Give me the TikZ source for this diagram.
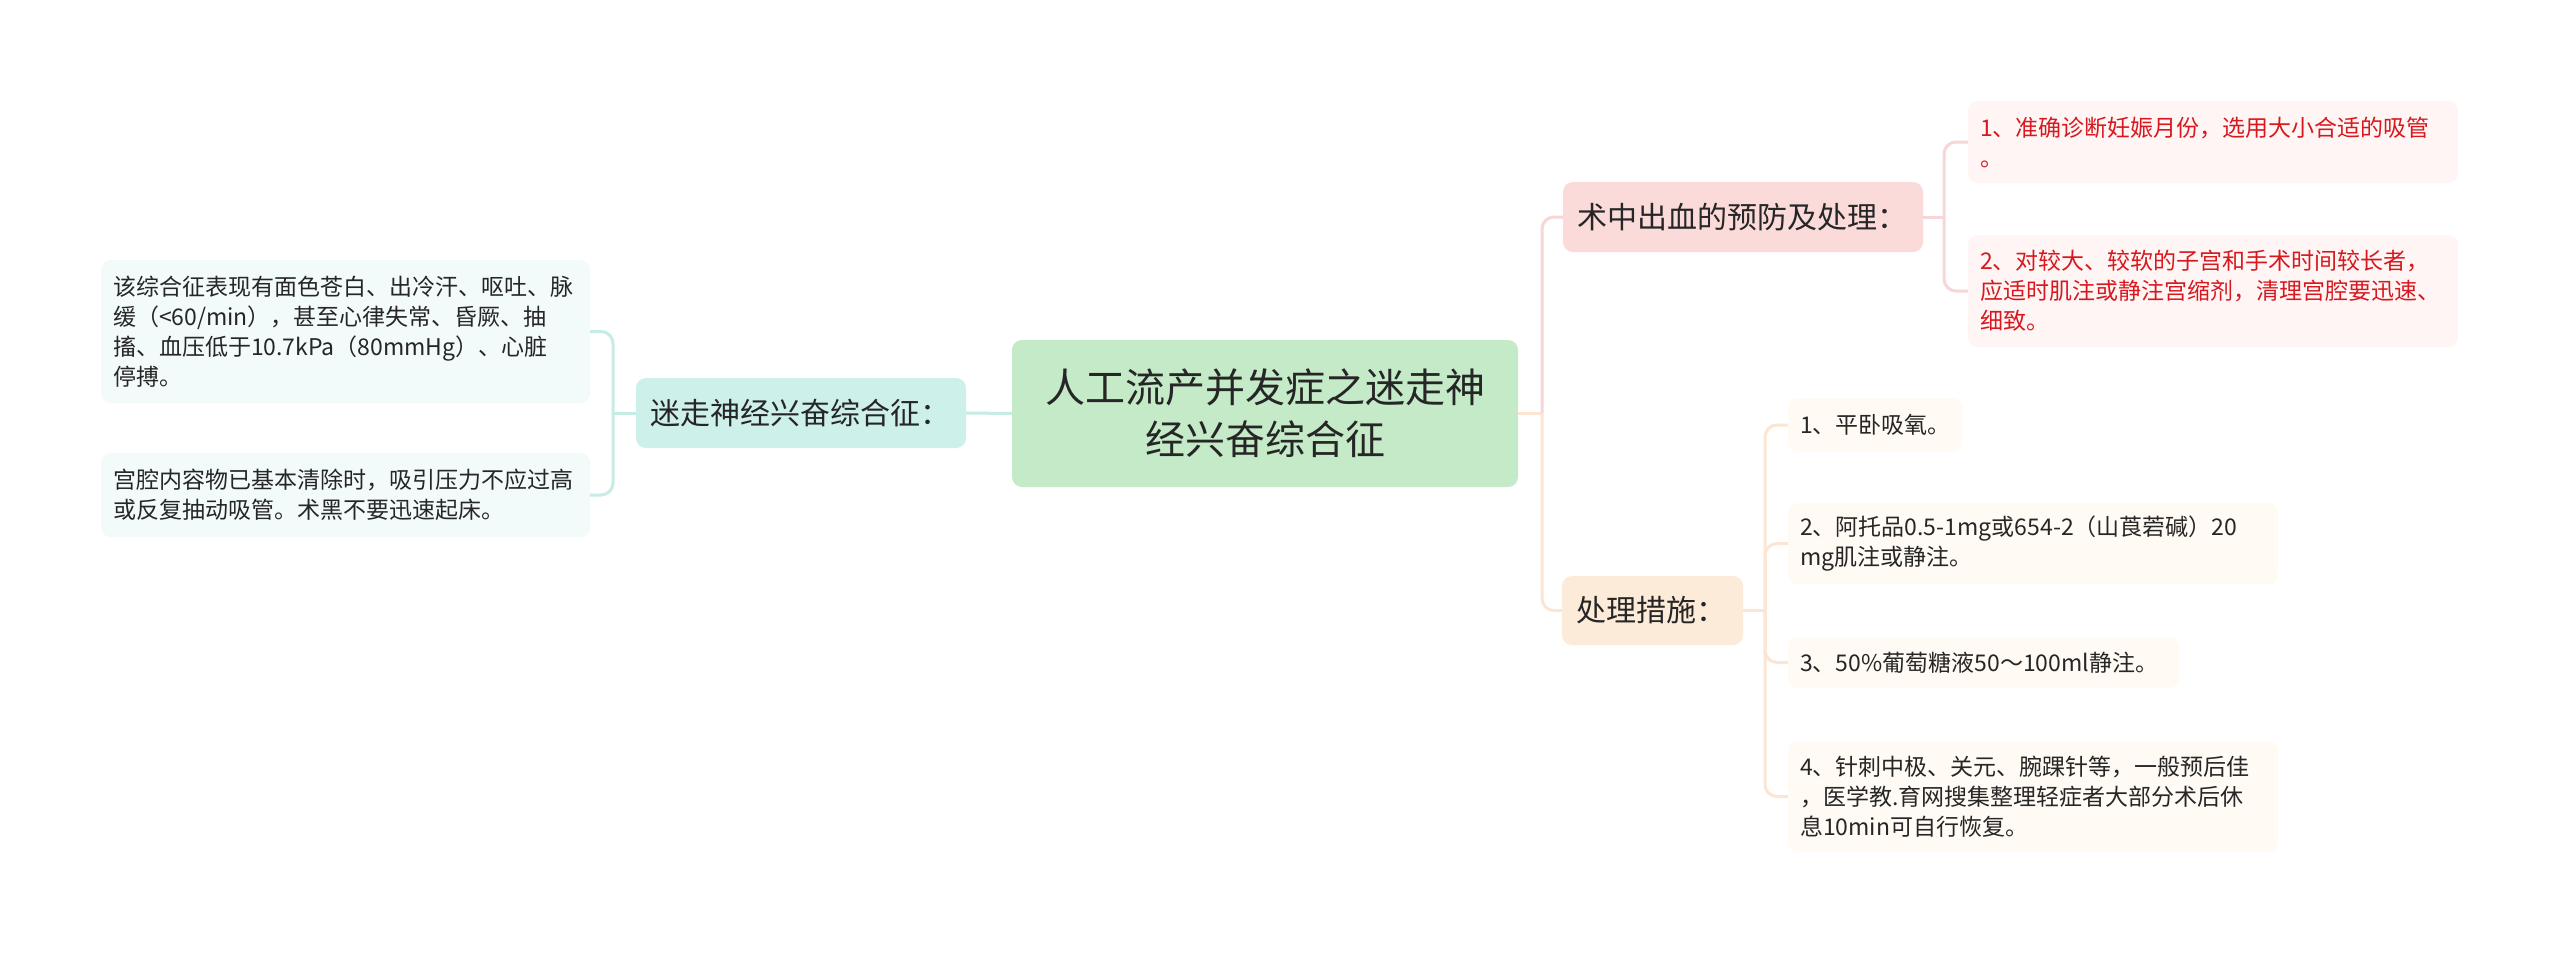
\documentclass[tikz,border=0pt]{standalone}
\usepackage{fontspec}
\setmainfont{Noto Sans CJK SC}
\definecolor{txt}{HTML}{262626}
\definecolor{redtxt}{HTML}{D7191F}
\definecolor{cfill}{HTML}{C4EAC8}
\definecolor{tealfill}{HTML}{CDF0EA}
\definecolor{tealleaf}{HTML}{F2FBFA}
\definecolor{tealline}{HTML}{C6ECE5}
\definecolor{pinkfill}{HTML}{FBDADA}
\definecolor{pinkleaf}{HTML}{FFF5F5}
\definecolor{pinkline}{HTML}{F7D6D8}
\definecolor{peachfill}{HTML}{FDEBD9}
\definecolor{peachleaf}{HTML}{FFFAF3}
\definecolor{peachline}{HTML}{FCE6D3}
\tikzset{
  box/.style={rounded corners=10pt, inner ysep=0pt, inner xsep=12pt, anchor=center, text=txt},
  rootbox/.style={box, fill=cfill, align=center, font=\fontsize{40}{52}\selectfont},
  branchbox/.style={box, align=left, font=\fontsize{30}{38}\selectfont, inner xsep=14pt},
  leafbox/.style={box, align=left, font=\fontsize{23}{30}\selectfont},
  conn/.style={line width=3pt, rounded corners=12pt}
}
\begin{document}
\begin{tikzpicture}[x=1pt,y=-1pt]
\useasboundingbox[fill=white] (0,0) rectangle (2560,954);

% root
\node[rootbox, minimum width=506pt, minimum height=147pt] (C) at (1265,413.5)
  {人工流产并发症之迷走神\\经兴奋综合征};

% left branch
\node[branchbox, fill=tealfill, text width=302pt, minimum height=70pt] (LB) at (801,413)
  {迷走神经兴奋综合征：};
\node[leafbox, fill=tealleaf, text width=465pt, minimum height=143pt] (LL1) at (345.5,331.5)
  {该综合征表现有面色苍白、出冷汗、呕吐、脉\\缓（<60/min），甚至心律失常、昏厥、抽\\搐、血压低于10.7kPa（80mmHg）、心脏\\停搏。};
\node[leafbox, fill=tealleaf, text width=465pt, minimum height=84pt] (LL2) at (345.5,495)
  {宫腔内容物已基本清除时，吸引压力不应过高\\或反复抽动吸管。术黑不要迅速起床。};

% right branch 1
\node[branchbox, fill=pinkfill, text width=332pt, minimum height=70pt] (RB1) at (1743,217)
  {术中出血的预防及处理：};
\node[leafbox, fill=pinkleaf, text=redtxt, text width=466pt, minimum height=82pt] (R1L1) at (2213,142)
  {1、准确诊断妊娠月份，选用大小合适的吸管\\。};
\node[leafbox, fill=pinkleaf, text=redtxt, text width=466pt, minimum height=112pt] (R1L2) at (2213,291)
  {2、对较大、较软的子宫和手术时间较长者，\\应适时肌注或静注宫缩剂，清理宫腔要迅速、\\细致。};

% right branch 2
\node[branchbox, fill=peachfill, text width=153pt, minimum height=69pt] (RB2) at (1652.5,610.5)
  {处理措施：};
\node[leafbox, fill=peachleaf, text width=150pt, minimum height=54pt] (R2L1) at (1875,425)
  {1、平卧吸氧。};
\node[leafbox, fill=peachleaf, text width=466pt, minimum height=81pt] (R2L2) at (2033,543.5)
  {2、阿托品0.5-1mg或654-2（山莨菪碱）20\\mg肌注或静注。};
\node[leafbox, fill=peachleaf, text width=367pt, minimum height=51pt] (R2L3) at (1983.5,662.5)
  {3、50\%葡萄糖液50～100ml静注。};
\node[leafbox, fill=peachleaf, text width=466pt, minimum height=111pt] (R2L4) at (2033,796.5)
  {4、针刺中极、关元、腕踝针等，一般预后佳\\，医学教.育网搜集整理轻症者大部分术后休\\息10min可自行恢复。};

% junctions
\coordinate (lJ) at (613,413);
\coordinate (rJ) at (1542,413.5);
\coordinate (r1J) at (1944,217);
\coordinate (r2J) at (1765,610.5);

% left connectors
\draw[conn, tealline] (C.west) -- (LB.east);
\draw[conn, tealline] (LB.west) -- (lJ);
\draw[conn, tealline] (lJ) |- (LL1.east);
\draw[conn, tealline] (lJ) |- (LL2.east);

% right connectors
\draw[conn, peachline] (C.east) -- (rJ);
\draw[conn, pinkline] (rJ) |- (RB1.west);
\draw[conn, peachline] (rJ) |- (RB2.west);

\draw[conn, pinkline] (RB1.east) -- (r1J);
\draw[conn, pinkline] (r1J) |- (R1L1.west);
\draw[conn, pinkline] (r1J) |- (R1L2.west);

\draw[conn, peachline] (RB2.east) -- (r2J);
\draw[conn, peachline] (r2J) |- (R2L1.west);
\draw[conn, peachline] (r2J) |- (R2L2.west);
\draw[conn, peachline] (r2J) |- (R2L3.west);
\draw[conn, peachline] (r2J) |- (R2L4.west);
\end{tikzpicture}
\end{document}
